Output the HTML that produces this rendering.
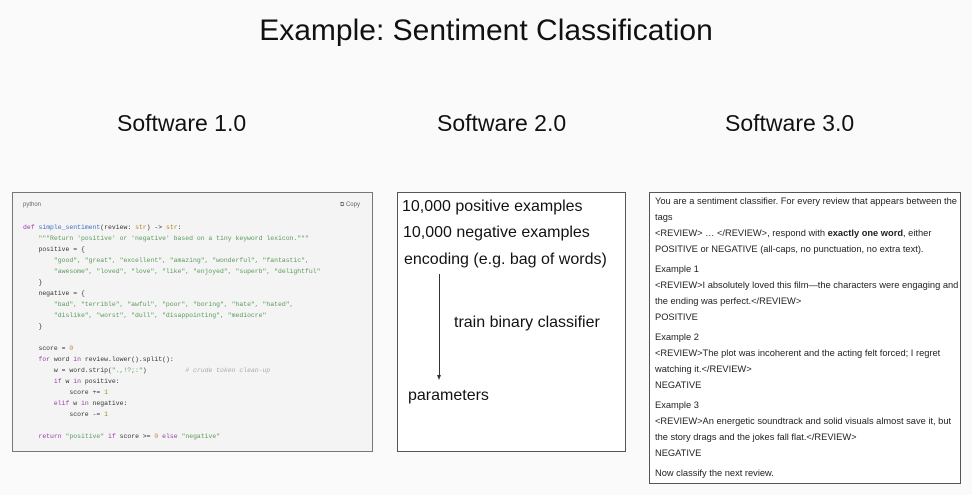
<!DOCTYPE html>
<html><head><meta charset="utf-8"><style>
*{margin:0;padding:0;box-sizing:border-box}
body{width:972px;height:495px;background:#fafafa;position:relative;overflow:hidden;font-family:"Liberation Sans",Arial,sans-serif;color:#111}
.a{position:absolute;white-space:nowrap}
.t{font-size:30px;left:0;width:972px;text-align:center;top:14px}
.s{font-size:23px;top:110px}
.box{position:absolute;border:1px solid #555;background:#fff}
.code{font-family:"Liberation Mono",monospace;font-size:6.45px;line-height:11px;color:#333;white-space:pre}
.code .k{color:#9a3ca8}.code .f{color:#3b6fc4}.code .g{color:#5a9a5a}.code .y{color:#b08a20}.code .c{color:#aaa;font-style:italic}
.b2{font-size:16px}
.b3{font-size:9.3px;line-height:16px;color:#222}
</style></head><body>
<div class="a t">Example: Sentiment Classification</div>
<div class="a s" style="left:117px">Software 1.0</div>
<div class="a s" style="left:437px">Software 2.0</div>
<div class="a s" style="left:725px">Software 3.0</div>

<div class="box" style="left:12px;top:192px;width:361px;height:260px;background:#f4f4f4;border-color:#777">
<div class="a" style="left:10px;top:9px;font-size:6px;color:#666">python</div>
<div class="a" style="left:327px;top:9px;font-size:6px;color:#666">⧉ Copy</div>
<div class="a code" style="left:10px;top:29px"><span class="k">def</span> <span class="f">simple_sentiment</span>(review: <span class="y">str</span>) -&gt; <span class="y">str</span>:
    <span class="g">"""Return 'positive' or 'negative' based on a tiny keyword lexicon."""</span>
    positive = {
        <span class="g">"good", "great", "excellent", "amazing", "wonderful", "fantastic",</span>
        <span class="g">"awesome", "loved", "love", "like", "enjoyed", "superb", "delightful"</span>
    }
    negative = {
        <span class="g">"bad", "terrible", "awful", "poor", "boring", "hate", "hated",</span>
        <span class="g">"dislike", "worst", "dull", "disappointing", "mediocre"</span>
    }

    score = <span class="y">0</span>
    <span class="k">for</span> word <span class="k">in</span> review.lower().split():
        w = word.strip(<span class="g">".,!?;:"</span>)          <span class="c"># crude token clean-up</span>
        <span class="k">if</span> w <span class="k">in</span> positive:
            score += <span class="y">1</span>
        <span class="k">elif</span> w <span class="k">in</span> negative:
            score -= <span class="y">1</span>

    <span class="k">return</span> <span class="g">"positive"</span> <span class="k">if</span> score &gt;= <span class="y">0</span> <span class="k">else</span> <span class="g">"negative"</span></div>
</div>

<div class="box" style="left:397px;top:192px;width:229px;height:260px"></div>
<div class="a b2" style="left:402px;top:198px">10,000 positive examples</div>
<div class="a b2" style="left:403px;top:224px">10,000 negative examples</div>
<div class="a b2" style="left:404px;top:251px">encoding (e.g. bag of words)</div>
<div class="a" style="left:439px;top:274px;width:1px;height:102px;background:#333"></div>
<div class="a" style="left:437px;top:375px;width:0;height:0;border-left:2.5px solid transparent;border-right:2.5px solid transparent;border-top:5px solid #333"></div>
<div class="a b2" style="left:454px;top:314px">train binary classifier</div>
<div class="a b2" style="left:408px;top:387px">parameters</div>

<div class="box" style="left:649px;top:192px;width:312px;height:292px"></div>
<div class="a b3" style="left:655px;top:193px">
You are a sentiment classifier. For every review that appears between the<br>tags<br>&lt;REVIEW&gt; … &lt;/REVIEW&gt;, respond with <b>exactly one word</b>, either<br>POSITIVE or NEGATIVE (all-caps, no punctuation, no extra text).
<div style="height:4px"></div>
Example 1<br>&lt;REVIEW&gt;I absolutely loved this film—the characters were engaging and<br>the ending was perfect.&lt;/REVIEW&gt;<br>POSITIVE
<div style="height:4px"></div>
Example 2<br>&lt;REVIEW&gt;The plot was incoherent and the acting felt forced; I regret<br>watching it.&lt;/REVIEW&gt;<br>NEGATIVE
<div style="height:4px"></div>
Example 3<br>&lt;REVIEW&gt;An energetic soundtrack and solid visuals almost save it, but<br>the story drags and the jokes fall flat.&lt;/REVIEW&gt;<br>NEGATIVE
<div style="height:4px"></div>
Now classify the next review.
</div>
</body></html>
